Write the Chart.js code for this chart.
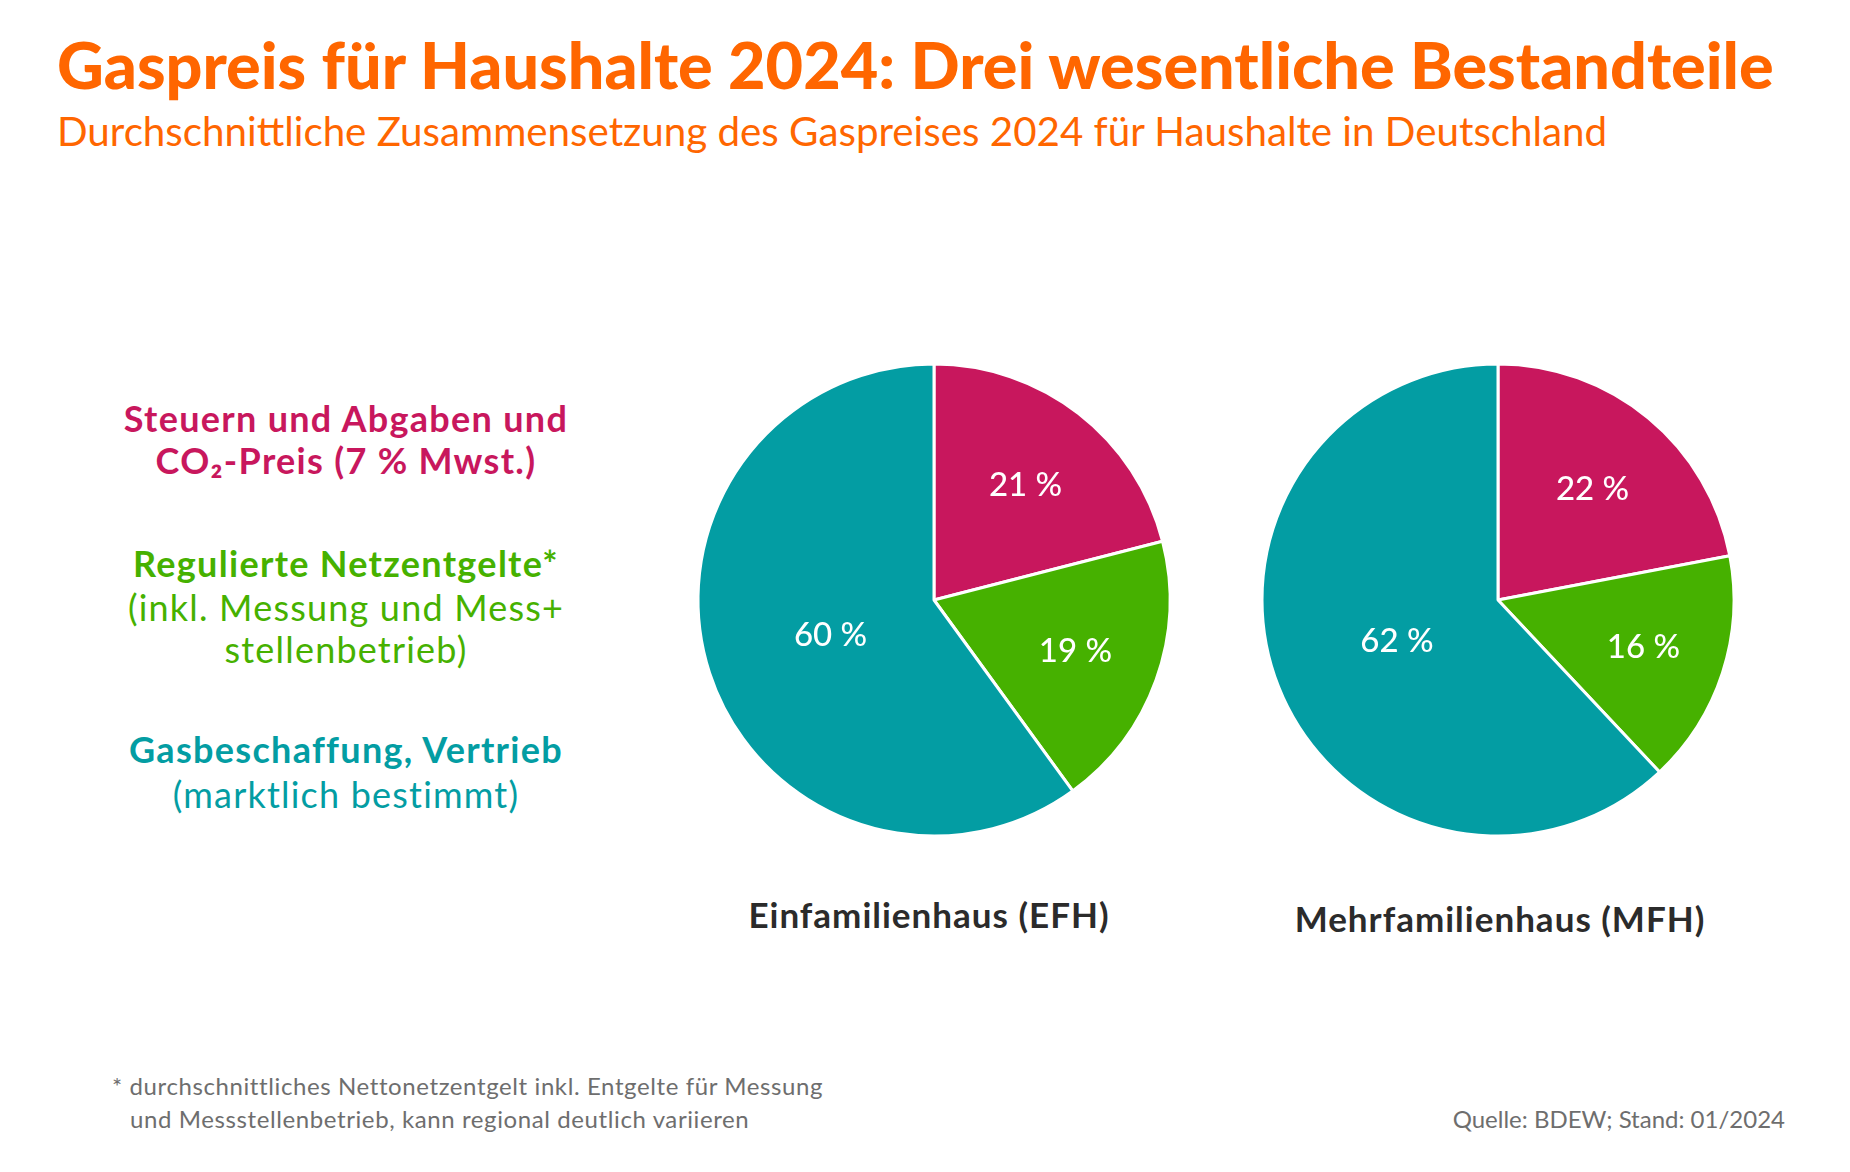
<!DOCTYPE html>
<html lang="de">
<head>
<meta charset="utf-8">
<script src="https://cdn.jsdelivr.net/npm/chart.js@4.4.1/dist/chart.umd.min.js"></script>
<style>
  html, body { margin: 0; padding: 0; background: #ffffff; }
  body { width: 1850px; height: 1172px; position: relative; overflow: hidden; font-family: Lato, "Open Sans", sans-serif; }
  .t { position: absolute; white-space: nowrap; line-height: 1; }
  #title { left: 57px; top: 32px; font-size: 64.7px; font-weight: 900; color: #FF6600; }
  #subtitle { left: 57px; top: 111px; font-size: 40.3px; font-weight: 400; color: #FF6600; }
  .leg { left: 46px; width: 600px; text-align: center; font-size: 36px; letter-spacing: 1.3px; }
  .med { font-weight: 700; }
  .reg { font-weight: 400; letter-spacing: 1.2px; }
  .cat { width: 600px; text-align: center; font-size: 35px; font-weight: 700; color: #2b2b2b; letter-spacing: 1px; }
  .foot { font-size: 24px; font-weight: 400; color: #6e6e6e; letter-spacing: 0.6px; }
  canvas.pie { position: absolute; }
</style>
</head>
<body>
<div class="t" id="title">Gaspreis für Haushalte 2024: Drei wesentliche Bestandteile</div>
<div class="t" id="subtitle">Durchschnittliche Zusammensetzung des Gaspreises 2024 für Haushalte in Deutschland</div>

<div class="t leg med" style="top:400px;color:#C8175D">Steuern und Abgaben und</div>
<div class="t leg med" style="top:442px;color:#C8175D">CO₂-Preis (7 % Mwst.)</div>
<div class="t leg med" style="top:545px;color:#46B100">Regulierte Netzentgelte*</div>
<div class="t leg reg" style="top:589px;color:#46B100">(inkl. Messung und Mess+</div>
<div class="t leg reg" style="top:631px;color:#46B100">stellenbetrieb)</div>
<div class="t leg med" style="top:731px;color:#039DA3">Gasbeschaffung, Vertrieb</div>
<div class="t leg reg" style="top:776px;color:#039DA3">(marktlich bestimmt)</div>

<canvas class="pie" id="pie1" width="500" height="500" style="left:684px;top:350px;width:500px;height:500px"></canvas>
<canvas class="pie" id="pie2" width="500" height="500" style="left:1248px;top:350px;width:500px;height:500px"></canvas>

<div class="t cat" id="cat1" style="left:629px;top:897px"></div>
<div class="t cat" id="cat2" style="left:1200px;top:901px"></div>

<div class="t foot" style="left:112px;top:1074px">* durchschnittliches Nettonetzentgelt inkl. Entgelte für Messung</div>
<div class="t foot" style="left:130px;top:1107px">und Messstellenbetrieb, kann regional deutlich variieren</div>
<div class="t foot" style="right:65px;top:1107px;letter-spacing:0">Quelle: BDEW; Stand: 01/2024</div>

<script>
// ---- data ----
const segments = ['Steuern und Abgaben und CO₂-Preis (7 % Mwst.)', 'Regulierte Netzentgelte', 'Gasbeschaffung, Vertrieb'];
const houseTypes = ['Einfamilienhaus (EFH)', 'Mehrfamilienhaus (MFH)'];
const efhValues = [21, 19, 60];
const mfhValues = [22, 16, 62];
const segmentColors = ['#C8175D', '#46B100', '#039DA3'];

document.getElementById('cat1').textContent = houseTypes[0];
document.getElementById('cat2').textContent = houseTypes[1];

const sliceLabels = {
  id: 'sliceLabels',
  afterDatasetsDraw(chart) {
    const ctx = chart.ctx;
    const ds = chart.data.datasets[0];
    const meta = chart.getDatasetMeta(0);
    ctx.save();
    ctx.fillStyle = '#ffffff';
    ctx.font = '500 33px Lato, "Open Sans", sans-serif';
    ctx.textAlign = 'center';
    ctx.textBaseline = 'middle';
    meta.data.forEach((arc, i) => {
      const p = arc.getProps(['x', 'y', 'startAngle', 'endAngle', 'outerRadius'], true);
      const half = (p.endAngle - p.startAngle) / 2;
      const mid = p.startAngle + half;
      let d = 2 * p.outerRadius * Math.sin(half) / (3 * half);
      d = Math.max(d, 0.47 * p.outerRadius);
      ctx.fillText(ds.data[i] + ' %', p.x + Math.cos(mid) * d + 2, p.y + Math.sin(mid) * d + 1);
    });
    ctx.restore();
  }
};

function makePie(id, values) {
  new Chart(document.getElementById(id), {
    type: 'pie',
    data: {
      labels: segments,
      datasets: [{
        data: values,
        backgroundColor: segmentColors,
        borderColor: '#ffffff',
        borderWidth: 3,
        radius: 236
      }]
    },
    options: {
      responsive: false,
      animation: false,
      layout: { padding: 0 },
      plugins: { legend: { display: false }, tooltip: { enabled: false } }
    },
    plugins: [sliceLabels]
  });
}
makePie('pie1', efhValues);
makePie('pie2', mfhValues);
</script>
</body>
</html>
